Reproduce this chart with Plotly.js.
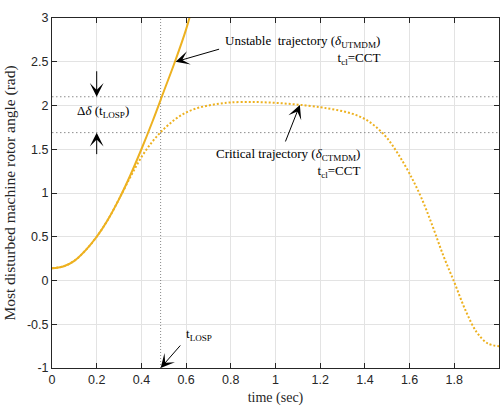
<!DOCTYPE html>
<html>
<head>
<meta charset="utf-8">
<script src="https://cdn.plot.ly/plotly-3.0.1.min.js"></script>
<style>html,body{margin:0;padding:0;background:#fff;}#chart{width:500px;height:406px;}</style>
</head>
<body>
<div id="chart"></div>
<script>
// ---- data ----
const unstableT = [0, 0.05, 0.1, 0.15, 0.2, 0.25, 0.3, 0.35, 0.4, 0.45, 0.5, 0.55, 0.6, 0.62];
const unstableDelta = [0.14, 0.16, 0.225, 0.345, 0.5, 0.695, 0.93, 1.2, 1.5, 1.82, 2.16, 2.5, 2.87, 3.05];

const criticalT = [0, 0.05, 0.1, 0.15, 0.2, 0.25, 0.3, 0.35, 0.4, 0.45, 0.5, 0.55, 0.6, 0.65, 0.7, 0.75, 0.8, 0.9, 1.0, 1.1, 1.2, 1.25, 1.3, 1.35, 1.4, 1.45, 1.5, 1.55, 1.6, 1.65, 1.7, 1.75, 1.8, 1.85, 1.9, 1.95, 2.0];
const criticalDelta = [0.14, 0.16, 0.225, 0.345, 0.5, 0.695, 0.93, 1.18, 1.41, 1.59, 1.73, 1.84, 1.92, 1.97, 2.0, 2.022, 2.035, 2.04, 2.03, 2.01, 1.98, 1.96, 1.935, 1.9, 1.845, 1.755, 1.625, 1.44, 1.22, 0.96, 0.64, 0.29, -0.02, -0.34, -0.59, -0.72, -0.75];

const tLOSP = 0.486;
const levelUnstable = 2.1;
const levelCritical = 1.69;
const xRange = [0, 2];
const yRange = [-1, 3];

const xTickVals = [0, 0.2, 0.4, 0.6, 0.8, 1, 1.2, 1.4, 1.6, 1.8, 2];
const xTickText = ['0', '0.2', '0.4', '0.6', '0.8', '1', '1.2', '1.4', '1.6', '1.8', '2'];
const yTickVals = [-1, -0.5, 0, 0.5, 1, 1.5, 2, 2.5, 3];
const yTickText = ['-1', '-0.5', '0', '0.5', '1', '1.5', '2', '2.5', '3'];

// ---- styles ----
const orange = '#EDB120';
const axisColor = '#262626';
const serif = "'Liberation Serif', 'Times New Roman', serif";
const sans = "'Liberation Sans', Arial, Helvetica, sans-serif";

const traces = [
  {x: [xRange[0], xRange[1]], y: [levelUnstable, levelUnstable], mode: 'lines',
   line: {color: '#8c8c8c', width: 1, dash: '1.5px,2.5px'}, hoverinfo: 'skip'},
  {x: [xRange[0], xRange[1]], y: [levelCritical, levelCritical], mode: 'lines',
   line: {color: '#8c8c8c', width: 1, dash: '1.5px,2.5px'}, hoverinfo: 'skip'},
  {x: [tLOSP, tLOSP], y: [yRange[0], yRange[1]], mode: 'lines',
   line: {color: '#6a6a6a', width: 0.8, dash: '1px,2px'}, hoverinfo: 'skip'},
  {x: criticalT, y: criticalDelta, mode: 'lines',
   line: {color: orange, width: 2, dash: '2px,2px', shape: 'spline', smoothing: 1}},
  {x: unstableT, y: unstableDelta, mode: 'lines',
   line: {color: orange, width: 2, shape: 'spline', smoothing: 1}}
];

const arrowBase = {text: '', showarrow: true, arrowhead: 3, arrowsize: 2.3, arrowwidth: 1, arrowcolor: '#000', xref: 'x', yref: 'y', axref: 'pixel', ayref: 'pixel'};
const txtFont = {family: serif, size: 13, color: '#000'};

const annotations = [
  Object.assign({}, arrowBase, {x: 0.553, y: 2.5, ax: 45, ay: -13}),
  Object.assign({}, arrowBase, {x: 1.109, y: 2.006, ax: -15, ay: 38}),
  Object.assign({}, arrowBase, {x: 0.2, y: levelUnstable, ax: 0, ay: -27}),
  Object.assign({}, arrowBase, {x: 0.2, y: levelCritical, ax: 0, ay: 23}),
  Object.assign({}, arrowBase, {x: tLOSP, y: yRange[0], ax: 21, ay: -24}),
  {text: 'Unstable  trajectory (<i>δ</i><sub>UTMDM</sub>)<br>t<sub>cl</sub>=CCT', align: 'right',
   x: 1.478, y: 2.85, xanchor: 'right', yanchor: 'top', showarrow: false, font: txtFont},
  {text: 'Critical trajectory (<i>δ</i><sub>CTMDM</sub>)<br>t<sub>cl</sub>=CCT', align: 'right',
   x: 1.388, y: 1.56, xanchor: 'right', yanchor: 'top', showarrow: false, font: txtFont},
  {text: 'Δ<i>δ</i> (t<sub>LOSP</sub>)', x: 0.228, y: 1.93, xanchor: 'center', yanchor: 'middle', showarrow: false, font: txtFont},
  {text: 't<sub>LOSP</sub>', x: 0.59, y: -0.5, xanchor: 'left', yanchor: 'top', showarrow: false, font: txtFont}
];

const layout = {
  width: 500, height: 406,
  margin: {l: 52, r: 1, t: 18, b: 38, pad: 0},
  paper_bgcolor: '#fff', plot_bgcolor: '#fff',
  showlegend: false,
  xaxis: {
    range: xRange, tickvals: xTickVals, ticktext: xTickText,
    showgrid: true, gridcolor: '#e3e3e3', gridwidth: 1, zeroline: false,
    showline: true, linecolor: axisColor, linewidth: 1, mirror: 'ticks',
    ticks: 'inside', ticklen: 5, tickcolor: axisColor, tickwidth: 1,
    tickfont: {family: sans, size: 12.5, color: axisColor},
    title: {text: 'time (sec)', font: {family: serif, size: 14, color: axisColor}, standoff: 7}
  },
  yaxis: {
    range: yRange, tickvals: yTickVals, ticktext: yTickText,
    showgrid: true, gridcolor: '#e3e3e3', gridwidth: 1, zeroline: false,
    showline: true, linecolor: axisColor, linewidth: 1, mirror: 'ticks',
    ticks: 'inside', ticklen: 5, tickcolor: axisColor, tickwidth: 1,
    tickfont: {family: sans, size: 12.5, color: axisColor},
    title: {text: 'Most disturbed machine rotor angle (rad)', font: {family: serif, size: 15.5, color: axisColor}, standoff: 7}
  },
  annotations: annotations
};

Plotly.newPlot('chart', traces, layout, {staticPlot: true, displayModeBar: false});
</script>
</body>
</html>
